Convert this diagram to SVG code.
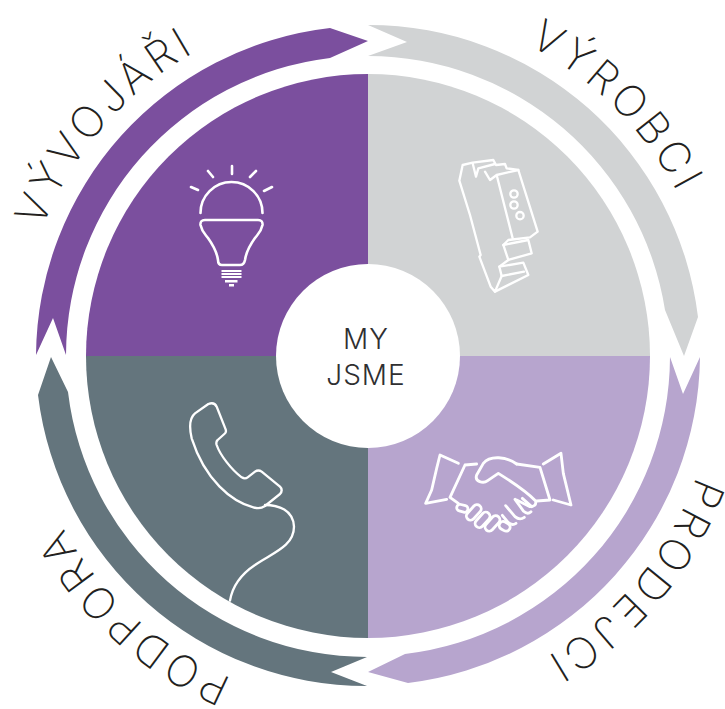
<svg xmlns="http://www.w3.org/2000/svg" width="725" height="709" viewBox="0 0 725 709">
<style>
.lbl{font-family:"Inter","Liberation Sans",sans-serif;font-weight:200;font-size:43px;fill:#231f20;text-anchor:middle;letter-spacing:4.500px}
.mid{font-family:"Inter","Liberation Sans",sans-serif;font-weight:300;font-size:28px;fill:#2f2f31;text-anchor:middle;letter-spacing:1px}
.ic{fill:none;stroke:#fff;stroke-linecap:round;stroke-linejoin:round}
</style>
<defs>
<path id="circ" d="M368 6A350 350 0 1 1 367.900 6"/>
</defs>
<rect width="725" height="709" fill="#fff"/>
<g id="connectors">
<path id="arrow-vyvojari" fill="#7b4f9e" d="M36 355A332 332 0 0 1 330 28L368 41L330 58A300 300 0 0 0 66 355L53 318Z"/>
<path id="arrow-vyrobci" fill="#d1d3d4" d="M368 25A332 332 0 0 1 698 317L684 356L665 310A301 301 0 0 0 368 56L407 42Z"/>
<path id="arrow-prodejci" fill="#b7a5ce" d="M700 357A332 332 0 0 1 408 683L368 672L405 654A300 300 0 0 0 670 357L683 394Z"/>
<path id="arrow-podpora" fill="#64757d" d="M367 686A331 331 0 0 1 38 395L51 357L68 392A301 301 0 0 0 367 657L331 672Z"/>
</g>
<g id="node-vyvojari">
<path fill="#7b4f9e" d="M368 356H86A282 282 0 0 1 368 74Z"/>
<g class="ic" stroke-width="2.600">
<path d="M232 166V174M208 171L213 177M256 171L250 177M191 187L198 190M272 187L264 191"/>
<path d="M200.500 213A31 31 0 0 1 262.500 213"/>
<path d="M205 220H258Q263 220 262.500 225C261 232 258 234 255 238C250 245 246 253 245 260Q244 265 240 265H222Q218 265 218 260C217 253 213 245 208 238C205 234 202 232 200.500 225Q200 220 205 220Z"/>
</g>
<g fill="#fff">
<rect x="221.500" y="270" width="20" height="2"/><rect x="221.500" y="273" width="20" height="2"/><rect x="221.500" y="276" width="20" height="2"/>
<rect x="225" y="280" width="12.500" height="2.500"/><rect x="229" y="284" width="5" height="2.500"/>
</g>
<text class="lbl"><textPath href="#circ" startOffset="1900">VÝVOJÁŘI</textPath></text>
</g>
<g id="node-vyrobci">
<path fill="#d1d3d4" d="M368 356V74A282 282 0 0 1 650 356Z"/>
<g class="ic" stroke-width="7" transform="translate(440 150) scale(.3333)">
<path d="M58 92L68 45L98 38L160 30L168 45L195 42L200 55L235 60L293 245L270 262L205 270L190 285L205 330L178 350L185 378L165 425L152 410L118 320L122 315L90 195L58 92Z"/>
<path d="M98 40L108 80L115 55L165 42M135 65L150 90L170 75L235 60M170 75L218 265M190 285L265 270L275 310L205 330M178 350L250 338L265 375L165 425M185 378L252 365"/>
<circle cx="222" cy="132" r="11"/><circle cx="222" cy="165" r="11"/><circle cx="240" cy="197" r="11"/>
</g>
<text class="lbl"><textPath href="#circ" startOffset="275">VÝROBCI</textPath></text>
</g>
<g id="node-prodejci">
<path fill="#b7a5ce" d="M368 356H650A282 282 0 0 1 368 638Z"/>
<g class="ic" stroke-width="8.500" transform="translate(415 440) scale(.3333)">
<path d="M130 70L75 45L65 85L50 150L32 190L95 178M385 72L438 40L445 100L468 195L415 180"/>
<path d="M150 75L105 172L130 190M150 75L185 72M305 72L375 82L405 180L365 183"/>
<path d="M305 72C275 50 225 45 205 70L185 105C178 125 205 132 218 122L250 100C290 125 330 150 362 183Q365 200 345 200L305 180"/>
<path d="M350 200L322 175M348 215Q338 225 326 214L300 178M328 232Q314 242 300 230L272 197M303 250Q292 258 280 248L262 226"/>
<rect x="125" y="195" width="34" height="20" rx="10" transform="rotate(15 142 205)"/>
<rect x="149" y="205" width="54" height="25" rx="12.500" transform="rotate(-48 176 217)"/>
<rect x="176" y="227" width="54" height="25" rx="12.500" transform="rotate(-48 203 240)"/>
<rect x="205" y="238" width="54" height="25" rx="12.500" transform="rotate(-48 232 250)"/>
<rect x="252" y="247" width="34" height="24" rx="12" transform="rotate(30 269 259)"/>
</g>
<text class="lbl"><textPath href="#circ" startOffset="794">PRODEJCI</textPath></text>
</g>
<g id="node-podpora">
<path fill="#64757d" d="M368 356V638A282 282 0 0 1 86 356Z"/>
<g class="ic" stroke-width="7" transform="translate(175 390) scale(.3333)">
<path d="M60 70L100 42Q118 35 125 50L152 118Q155 128 148 132L128 150Q122 155 125 165C135 195 170 240 200 262Q210 268 218 262L240 245Q250 238 260 245L315 290Q325 300 315 312L270 348Q255 358 235 352C170 335 90 270 50 145C42 110 42 85 60 70Z"/>
<path d="M270 345C310 345 355 360 357 410C357 470 290 490 240 525C195 555 172 590 165 632"/>
</g>
<text class="lbl"><textPath href="#circ" startOffset="1356">PODPORA</textPath></text>
</g>
<g id="node-center">
<circle cx="368" cy="356" r="92" fill="#fff"/>
<text class="mid" x="366" y="349">MY</text>
<text class="mid" x="366" y="385">JSME</text>
</g>
</svg>
